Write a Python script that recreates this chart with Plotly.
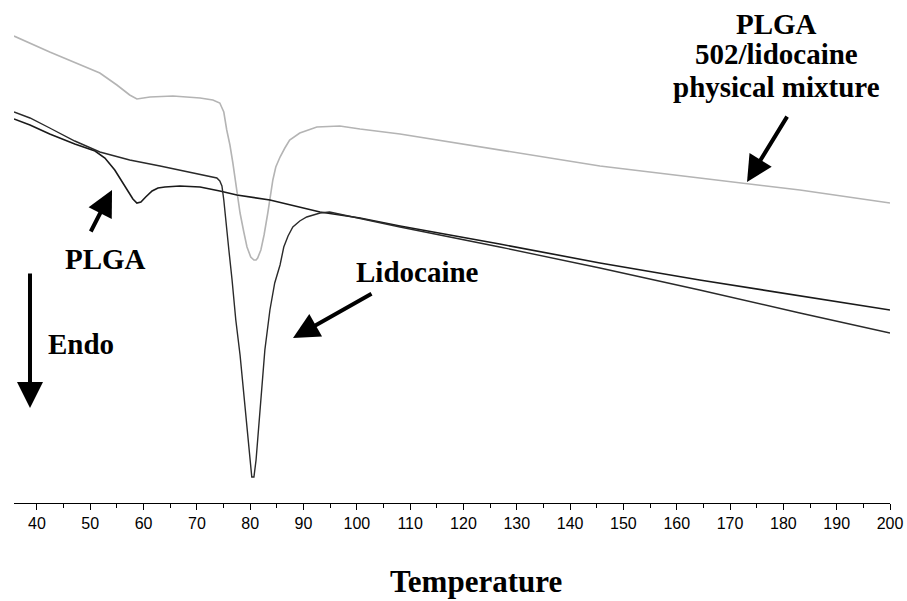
import plotly.graph_objects as go

# Temperature (°C) and heat flow (arbitrary units)
mix_T = [35.7, 42.4, 51.8, 55.0, 57.4, 58.75, 61.2, 65.5, 70.6, 73.0, 74.3, 75.05, 75.6, 76.2, 76.75,
         77.5, 78.1, 78.8, 79.4, 80.1, 80.7, 81.1, 81.4, 82.0, 82.6, 83.3, 83.7, 84.25, 84.8, 85.6,
         86.5, 87.4, 89.3, 91.2, 92.5, 96.8, 100.6, 108.1, 126.8, 145.6, 164.3, 183.1, 200.0]
mix_y = [46.7, 45.1, 43.0, 41.8, 40.8, 40.4, 40.6, 40.7, 40.5, 40.3, 40.0, 39.1, 37.3, 35.8, 34.0,
         31.3, 29.0, 27.1, 25.6, 24.6, 24.3, 24.3, 24.5, 25.3, 26.8, 29.0, 30.5, 32.3, 33.6, 34.6,
         35.5, 36.3, 37.0, 37.4, 37.6, 37.7, 37.4, 36.9, 35.3, 33.7, 32.5, 31.3, 30.0]

lido_T = [35.7, 38.7, 42.4, 47.1, 51.8, 57.4, 63.1, 68.7, 72.4, 73.75, 74.3, 74.7, 75.05, 75.4, 76.0,
          76.6, 77.3, 78.1, 78.8, 79.4, 79.9, 80.3, 80.7, 81.1, 81.4, 82.0, 82.75, 83.7, 84.6, 85.6,
          86.3, 87.1, 88.0, 89.3, 90.6, 93.1, 94.9, 108.1, 126.8, 145.6, 164.3, 183.1, 200.0]
lido_y = [39.1, 38.5, 37.5, 36.2, 35.1, 34.3, 33.7, 33.1, 32.7, 32.5, 32.2, 31.7, 30.3, 28.3, 25.3,
          22.3, 18.3, 14.8, 10.8, 7.8, 4.3, 2.6, 2.6, 4.3, 6.3, 10.3, 15.3, 19.3, 22.0, 23.8,
          25.6, 26.7, 27.6, 28.2, 28.6, 29.0, 29.1, 27.6, 25.6, 23.5, 21.3, 19.0, 17.0]

plga_T = [35.7, 38.7, 42.4, 47.1, 50.9, 52.75, 54.6, 55.9, 57.1, 58.0, 58.75, 59.5, 60.4, 61.6, 62.7,
          64.0, 66.8, 70.6, 74.3, 77.5, 83.7, 93.1, 100.6, 108.1, 126.8, 145.6, 164.3, 183.1, 200.0]
plga_y = [38.4, 37.8, 36.9, 35.9, 35.2, 34.5, 33.3, 32.2, 31.2, 30.4, 30.0, 30.1, 30.6, 31.2, 31.5,
          31.6, 31.7, 31.6, 31.2, 30.8, 30.3, 29.1, 28.5, 27.7, 25.9, 24.0, 22.3, 20.7, 19.3]

tick_vals = list(range(40, 201, 10))
tick_text = [str(v) for v in tick_vals]

SERIF = "Liberation Serif"

fig = go.Figure()
fig.add_trace(go.Scatter(x=mix_T, y=mix_y, mode="lines", name="PLGA 502/lidocaine physical mixture",
                         line=dict(color="#b4b4b4", width=1.6)))
fig.add_trace(go.Scatter(x=plga_T, y=plga_y, mode="lines", name="PLGA",
                         line=dict(color="#1a1a1a", width=1.6)))
fig.add_trace(go.Scatter(x=lido_T, y=lido_y, mode="lines", name="Lidocaine",
                         line=dict(color="#2a2a2a", width=1.4)))

fig.update_layout(
    width=907, height=601,
    margin=dict(l=14, r=17, t=0, b=98),
    paper_bgcolor="white", plot_bgcolor="white",
    showlegend=False,
    xaxis=dict(range=[35.7, 200], tickvals=tick_vals, ticktext=tick_text,
               showline=True, linecolor="black", linewidth=1,
               ticks="outside", ticklen=6, tickwidth=1, tickcolor="black",
               minor=dict(dtick=5, ticks="outside", ticklen=4, tickcolor="black", tickwidth=1),
               showgrid=False, zeroline=False,
               tickfont=dict(family="Liberation Sans", size=16, color="black")),
    yaxis=dict(range=[0, 50.3], visible=False, showgrid=False, zeroline=False),
)

bold = dict(family=SERIF, size=29, color="black", weight="bold")

texts = [
    ("PLGA", 0.871, 0.952),
    ("502/lidocaine", 0.871, 0.893),
    ("physical mixture", 0.871, 0.827),
    ("PLGA", 0.104, 0.485),
    ("Lidocaine", 0.461, 0.459),
    ("Endo", 0.0765, 0.316),
]
for t, xp, yp in texts:
    fig.add_annotation(text=t, x=xp, y=yp, xref="paper", yref="paper",
                       showarrow=False, font=bold, xanchor="center", yanchor="middle")

fig.add_annotation(text="Temperature", x=0.527, y=-0.157, xref="paper", yref="paper",
                   showarrow=False, font=dict(family=SERIF, size=31, color="black", weight="bold"),
                   xanchor="center", yanchor="middle")

arrows = [
    (0.1119, 0.6223, -22, 43),
    (0.3185, 0.328, 80, -45),
    (0.8368, 0.638, 41, -67),
    (0.01826, 0.1889, 0, -136),
]
for xp, yp, ax, ay in arrows:
    fig.add_annotation(text="", x=xp, y=yp, xref="paper", yref="paper",
                       ax=ax, ay=ay, axref="pixel", ayref="pixel",
                       showarrow=True, arrowhead=2, arrowsize=1.3, arrowwidth=4,
                       arrowcolor="black", standoff=0)

fig.write_html("out.html")
